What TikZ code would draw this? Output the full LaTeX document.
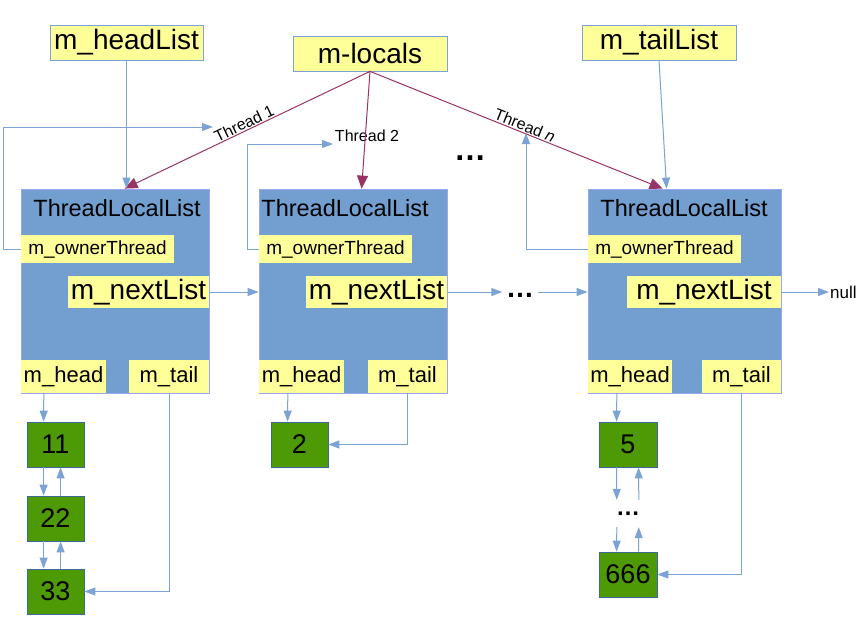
\documentclass[tikz,border=0pt]{standalone}
\usepackage{fontspec}
\setmainfont{Liberation Sans}
\usetikzlibrary{arrows.meta,calc}
\definecolor{tblue}{HTML}{729FCF}
\definecolor{tborder}{HTML}{9AA6EE}
\definecolor{tyellow}{HTML}{FFFF99}
\definecolor{tgreen}{HTML}{4E9A06}
\definecolor{gborder}{HTML}{3E6A9A}
\definecolor{lineblue}{HTML}{7BA3D5}
\definecolor{tred}{HTML}{993366}
\begin{document}
\begin{tikzpicture}[x=1pt,y=-1pt,
  fs/.style={font=\fontsize{#1}{#1}\selectfont},
  topbox/.style={draw=lineblue, fill=tyellow, inner sep=0pt, line width=0.8pt, minimum height=35pt},
  listbox/.style={draw=tborder, fill=tblue, inner sep=0pt, line width=0.8pt, minimum height=204pt},
  field/.style={fill=tyellow, inner sep=0pt},
  ownerf/.style={field, minimum width=153pt, minimum height=28pt, fs=19},
  nextf/.style={field, minimum height=32pt, fs=28},
  htf/.style={field, minimum height=33pt, fs=22},
  item/.style={draw=gborder, fill=tgreen, inner sep=0pt, minimum width=57pt, minimum height=45pt, fs=27, line width=0.8pt},
  conn/.style={draw=lineblue, line width=1pt, -{Triangle[length=11pt,width=8pt]}},
  threadarrow/.style={draw=tred, line width=1pt, -{Triangle[length=13pt,width=11pt]}},
  lab/.style={fs=16, inner sep=1pt},
  titlef/.style={fs=23.5, inner sep=0pt},
]
\useasboundingbox (0,0) rectangle (865,635);

% top boxes
\node[topbox, minimum width=153pt, fs=28] (headList) at (126.5,42.5) {m\_headList};
\node[topbox, minimum width=154pt, fs=28] (locals) at (370,53.5) {m-locals};
\node[topbox, minimum width=154pt, fs=28] (tailList) at (659,42.5) {m\_tailList};

% list boxes
\node[listbox, minimum width=188pt] (tll1) at (115,291) {};
\node[listbox, minimum width=188pt] (tll2) at (353,291) {};
\node[listbox, minimum width=193pt] (tll3) at (684.5,291) {};

\node[titlef] (title1) at (117,208) {ThreadLocalList};
\node[titlef] (title2) at (345,208) {ThreadLocalList};
\node[titlef] (title3) at (684,208) {ThreadLocalList};

\node[ownerf] (owner1) at (97.5,249) {m\_ownerThread};
\node[ownerf] (owner2) at (335.5,249) {m\_ownerThread};
\node[ownerf] (owner3) at (664.5,249) {m\_ownerThread};

\node[nextf, minimum width=141pt] (next1) at (138.5,292) {m\_nextList};
\node[nextf, minimum width=141pt] (next2) at (376.5,292) {m\_nextList};
\node[nextf, minimum width=154pt] (next3) at (704,292) {m\_nextList};

\node[htf, minimum width=85pt] (head1) at (63.5,376.5) {m\_head};
\node[htf, minimum width=80pt] (tail1) at (169,376.5) {m\_tail};
\node[htf, minimum width=85pt] (head2) at (301.5,376.5) {m\_head};
\node[htf, minimum width=79pt] (tail2) at (407.5,376.5) {m\_tail};
\node[htf, minimum width=84pt] (head3) at (630,376.5) {m\_head};
\node[htf, minimum width=79pt] (tail3) at (741.5,376.5) {m\_tail};

% items
\node[item] (n11) at (55.5,444.5) {11};
\node[item] (n22) at (55.5,518.5) {22};
\node[item] (n33) at (55.5,591.5) {33};
\node[item] (n2) at (299.5,444.5) {2};
\node[item, minimum width=58pt] (n5) at (628,444.5) {5};
\node[inner sep=0pt, minimum width=58pt, minimum height=27pt, fs=24] (vdots) at (628,513.5) {\textbf{…}};
\node[item, minimum width=58pt] (n666) at (628,574.5) {666};

% dots and labels
\node[fs=32, inner sep=0pt] (tdots) at (470,158) {\textbf{…}};
\node[fs=28, inner sep=0pt, minimum width=35pt] (hdots) at (520,295) {\textbf{…}};
\node[lab] (lab2) at (367,136) {Thread 2};
\node[fs=17, inner sep=1pt, anchor=west] (null) at (829,292) {null};

\coordinate (th1) at (213,127);
\coordinate (th2) at (333,144);
\coordinate (th3) at (526,133);

% thread arrows
\draw[threadarrow] (locals.south) -- node[lab, above, sloped, pos=0.5]{Thread 1} ([xshift=104pt]tll1.north west);
\draw[threadarrow] (locals.south) -- ([xshift=103pt]tll2.north west);
\draw[threadarrow] (locals.south) -- node[lab, above, sloped, pos=0.52]{Thread \textit{n}} ([xshift=75pt]tll3.north west);

\draw[conn] (headList.south) -- (headList.south |- tll1.north);
\draw[conn] (tailList.south) -- ([xshift=79pt]tll3.north west);

% owner loops
\draw[conn] (owner1.west) -- ++(-17,0) |- (th1);
\draw[conn] (owner2.west) -- ++(-11,0) |- (th2);
\draw[conn] (owner3.west) -| (th3);

% next list chain
\draw[conn] (next1.east) -- (next1.east -| tll2.west);
\draw[conn] (next2.east) -- (next2.east -| hdots.west);
\draw[conn] (next2.east -| hdots.east) -- (next2.east -| tll3.west);
\draw[conn] (next3.east) -- (null.west);

% list 1
\draw[conn] ([xshift=23pt]head1.south west) -- ([xshift=17pt]n11.north west);
\draw[conn] ([xshift=17pt]n11.south west) -- ([xshift=17pt]n22.north west);
\draw[conn] ([xshift=34pt]n22.north west) -- ([xshift=34pt]n11.south west);
\draw[conn] ([xshift=17pt]n22.south west) -- ([xshift=17pt]n33.north west);
\draw[conn] ([xshift=34pt]n33.north west) -- ([xshift=34pt]n22.south west);
\draw[conn] (tail1.south) |- (n33.east);

% list 2
\draw[conn] ([xshift=29pt]head2.south west) -- ([xshift=17pt]n2.north west);
\draw[conn] (tail2.south) |- (n2.east);

% list 3
\draw[conn] ([xshift=29pt]head3.south west) -- ([xshift=18pt]n5.north west);
\draw[conn] ([xshift=18pt]n5.south west) -- ([xshift=18pt]vdots.north west);
\draw[conn] ([xshift=40pt]vdots.north west) -- ([xshift=40pt]n5.south west);
\draw[conn] ([xshift=18pt]vdots.south west) -- ([xshift=18pt]n666.north west);
\draw[conn] ([xshift=40pt]n666.north west) -- ([xshift=40pt]vdots.south west);
\draw[conn] (tail3.south) |- (n666.east);
\end{tikzpicture}
\end{document}
